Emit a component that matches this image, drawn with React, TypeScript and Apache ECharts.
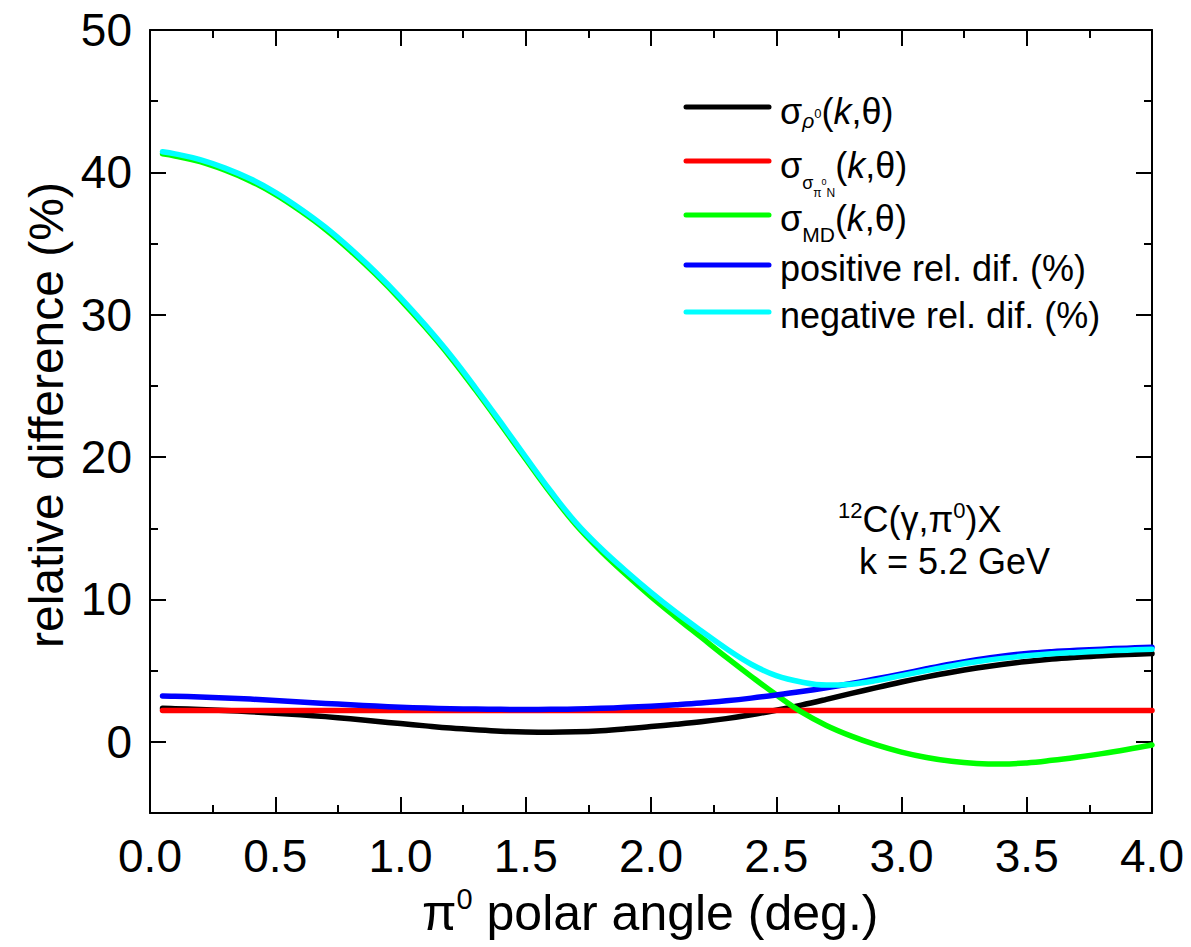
import { useEffect, useRef } from 'react';
import * as echarts from 'echarts';

const FONT = "'Liberation Sans', Arial, Helvetica, sans-serif";

// pi0 polar angle (deg.)
const angles = [
  0.05, 0.1, 0.2, 0.3, 0.4, 0.5, 0.6, 0.7, 0.8, 0.9, 1.0,
  1.1, 1.2, 1.3, 1.4, 1.5, 1.6, 1.7, 1.8, 1.9, 2.0,
  2.1, 2.2, 2.3, 2.4, 2.5, 2.6, 2.7, 2.8, 2.9, 3.0,
  3.1, 3.2, 3.3, 3.4, 3.5, 3.6, 3.7, 3.8, 3.9, 4.0,
];

// sigma_rho0(k,theta) - black
const rhoValues = [
  2.35, 2.33, 2.27, 2.2, 2.11, 2.01, 1.9, 1.77, 1.62, 1.45, 1.28,
  1.12, 0.97, 0.85, 0.75, 0.69, 0.67, 0.7, 0.78, 0.91, 1.07,
  1.23, 1.41, 1.63, 1.9, 2.22, 2.58, 2.98, 3.4, 3.81, 4.2,
  4.56, 4.89, 5.18, 5.43, 5.64, 5.81, 5.94, 6.05, 6.13, 6.2,
];

// sigma_{sigma_pi0N}(k,theta) - red
const sigmaNValues = [
  2.2, 2.2, 2.2, 2.2, 2.2, 2.2, 2.2, 2.2, 2.2, 2.2, 2.2,
  2.2, 2.2, 2.2, 2.2, 2.2, 2.2, 2.2, 2.2, 2.2, 2.2,
  2.2, 2.2, 2.2, 2.2, 2.2, 2.2, 2.2, 2.2, 2.2, 2.2,
  2.2, 2.2, 2.2, 2.2, 2.2, 2.2, 2.2, 2.2, 2.2, 2.2,
];

// sigma_MD(k,theta) - green
const mdValues = [
  41.3, 41.15, 40.75, 40.15, 39.4, 38.45, 37.3, 36.0, 34.5, 32.85, 31.05,
  29.1, 27.0, 24.7, 22.3, 19.85, 17.45, 15.25, 13.4, 11.75, 10.2,
  8.75, 7.35, 5.95, 4.6, 3.3, 2.1, 1.15, 0.4, -0.22, -0.72,
  -1.1, -1.37, -1.52, -1.56, -1.48, -1.3, -1.08, -0.83, -0.54, -0.22,
];

// positive rel. dif. (%) - blue
const positiveValues = [
  3.22, 3.2, 3.15, 3.08, 3.0, 2.9, 2.8, 2.7, 2.6, 2.51, 2.43,
  2.37, 2.33, 2.3, 2.28, 2.27, 2.28, 2.3, 2.35, 2.42, 2.5,
  2.6, 2.72, 2.88, 3.07, 3.29, 3.53, 3.8, 4.1, 4.43, 4.77,
  5.13, 5.47, 5.77, 6.02, 6.2, 6.33, 6.43, 6.51, 6.58, 6.64,
];

// negative rel. dif. (%) - cyan
const negativeValues = [
  41.45, 41.3, 40.9, 40.3, 39.55, 38.6, 37.45, 36.15, 34.65, 33.0, 31.2,
  29.25, 27.15, 24.85, 22.45, 20.0, 17.6, 15.4, 13.6, 12.0, 10.5,
  9.1, 7.8, 6.55, 5.45, 4.65, 4.2, 3.99, 4.05, 4.3, 4.65,
  5.0, 5.33, 5.62, 5.86, 6.04, 6.18, 6.28, 6.37, 6.44, 6.5,
];

const yMajorTicks = [0, 10, 20, 30, 40, 50];
const yMinorTicks = [-5, 5, 15, 25, 35, 45];

const seriesDefs = [
  { name: 'rho', color: '#000000', values: rhoValues },
  { name: 'sigmaN', color: '#ff0000', values: sigmaNValues },
  { name: 'md', color: '#00ff00', values: mdValues },
  { name: 'positive', color: '#0000ff', values: positiveValues },
  { name: 'negative', color: '#00ffff', values: negativeValues },
];

type Seg = { t: string; size: number; italic?: boolean; dy?: number; dx?: number };

export default function App() {
  const ref = useRef<HTMLDivElement>(null);

  useEffect(() => {
    const chart = echarts.init(ref.current!, null, { renderer: 'svg' });
    const canvas = document.createElement('canvas');
    const ctx = canvas.getContext('2d')!;

    const layout = (segs: Seg[], x0: number, base: number) => {
      let x = x0;
      const out: any[] = [];
      for (const s of segs) {
        ctx.font = `${s.italic ? 'italic ' : ''}${s.size}px ${FONT}`;
        const w = ctx.measureText(s.t).width;
        x += s.dx || 0;
        out.push({
          type: 'text',
          x,
          y: base + (s.dy || 0) - 0.3465 * s.size,
          z: 100,
          style: {
            text: s.t,
            fill: '#000',
            fontSize: s.size,
            fontFamily: FONT,
            fontStyle: s.italic ? 'italic' : 'normal',
            align: 'left',
            verticalAlign: 'middle',
          },
        });
        x += w;
      }
      return out;
    };

    const legendYs = [107, 161, 215, 265, 312];
    const legendLines = seriesDefs.map((s, i) => ({
      type: 'line',
      z: 100,
      shape: { x1: 686, y1: legendYs[i], x2: 769, y2: legendYs[i] },
      style: { stroke: s.color, lineWidth: 5, lineCap: 'round' },
    }));

    const tail: Seg[] = [
      { t: '(', size: 36 },
      { t: 'k', size: 36, italic: true },
      { t: ',θ)', size: 36 },
    ];

    const texts = [
      ...layout(
        [
          { t: 'σ', size: 36 },
          { t: 'ρ', size: 21, italic: true, dy: 4 },
          { t: '0', size: 13, dy: -6 },
          ...tail,
        ],
        780,
        124
      ),
      ...layout(
        [
          { t: 'σ', size: 36 },
          { t: 'σ', size: 18, dy: 11 },
          { t: 'π', size: 12, dy: 19 },
          { t: '0', size: 9, dy: 7 },
          { t: 'N', size: 12, dy: 19 },
          ...tail,
        ],
        780,
        178
      ),
      ...layout(
        [
          { t: 'σ', size: 36 },
          { t: 'MD', size: 21, dy: 11 },
          ...tail,
        ],
        780,
        231
      ),
      ...layout([{ t: 'positive rel. dif. (%)', size: 36 }], 780, 281),
      ...layout([{ t: 'negative rel. dif. (%)', size: 36 }], 780, 328),
      ...layout(
        [
          { t: '12', size: 22, dy: -14 },
          { t: 'C(γ,π', size: 36 },
          { t: '0', size: 22, dy: -14 },
          { t: ')X', size: 36 },
        ],
        838,
        532
      ),
      ...layout([{ t: 'k = 5.2 GeV', size: 36 }], 859, 574),
      ...layout(
        [
          { t: 'π', size: 50 },
          { t: '0', size: 29, dy: -21 },
          { t: ' polar angle (deg.)', size: 50 },
        ],
        422,
        930
      ),
      {
        type: 'text',
        x: 46,
        y: 415,
        rotation: Math.PI / 2,
        z: 100,
        style: {
          text: 'relative difference (%)',
          fill: '#000',
          fontSize: 48,
          fontFamily: FONT,
          align: 'center',
          verticalAlign: 'middle',
        },
      },
    ];

    const axisLine = { show: true, onZero: false, lineStyle: { color: '#000', width: 2 } };
    const tickStyle = { color: '#000', width: 2 };
    const labelStyle = { color: '#000', fontSize: 46, fontFamily: FONT };

    const xBase = (position: 'bottom' | 'top', showLabel: boolean) => ({
      type: 'value',
      position,
      min: 0,
      max: 4,
      interval: 0.5,
      axisLine,
      axisTick: { show: true, inside: true, length: 16, lineStyle: tickStyle },
      minorTick: { show: true, splitNumber: 2, length: 8, lineStyle: tickStyle },
      splitLine: { show: false },
      minorSplitLine: { show: false },
      axisLabel: {
        show: showLabel,
        ...labelStyle,
        margin: 20,
        showMinLabel: true,
        showMaxLabel: true,
        formatter: (v: number) => v.toFixed(1),
      },
    });

    const yBase = (position: 'left' | 'right', major: boolean, showLabel: boolean) => ({
      type: 'value',
      position,
      min: -5,
      max: 50,
      interval: 5,
      axisLine: major ? axisLine : { show: false, onZero: false },
      axisTick: {
        show: true,
        inside: true,
        length: major ? 16 : 8,
        lineStyle: tickStyle,
        customValues: major ? yMajorTicks : yMinorTicks,
      },
      splitLine: { show: false },
      axisLabel: {
        show: showLabel,
        ...labelStyle,
        margin: 18,
        customValues: yMajorTicks,
      },
    });

    chart.setOption({
      animation: false,
      backgroundColor: '#fff',
      grid: {
        left: 150,
        top: 30,
        width: 1002,
        height: 783,
        containLabel: false,
        outerBoundsMode: 'none',
      },
      xAxis: [xBase('bottom', true), xBase('top', false)],
      yAxis: [
        yBase('left', true, true),
        yBase('left', false, false),
        yBase('right', true, false),
        yBase('right', false, false),
      ],
      series: seriesDefs.map((s) => ({
        type: 'line',
        name: s.name,
        xAxisIndex: 0,
        yAxisIndex: 0,
        data: angles.map((a, i) => [a, s.values[i]]),
        smooth: 0.4,
        showSymbol: false,
        symbol: 'none',
        lineStyle: { color: s.color, width: 5.5, cap: 'round', join: 'round' },
        itemStyle: { color: s.color },
        z: 2,
      })),
      graphic: [...legendLines, ...texts],
    });

    return () => chart.dispose();
  }, []);

  return (
    <div
      ref={ref}
      style={{ position: 'fixed', left: 0, top: 0, width: 1191, height: 947, background: '#fff' }}
    />
  );
}
